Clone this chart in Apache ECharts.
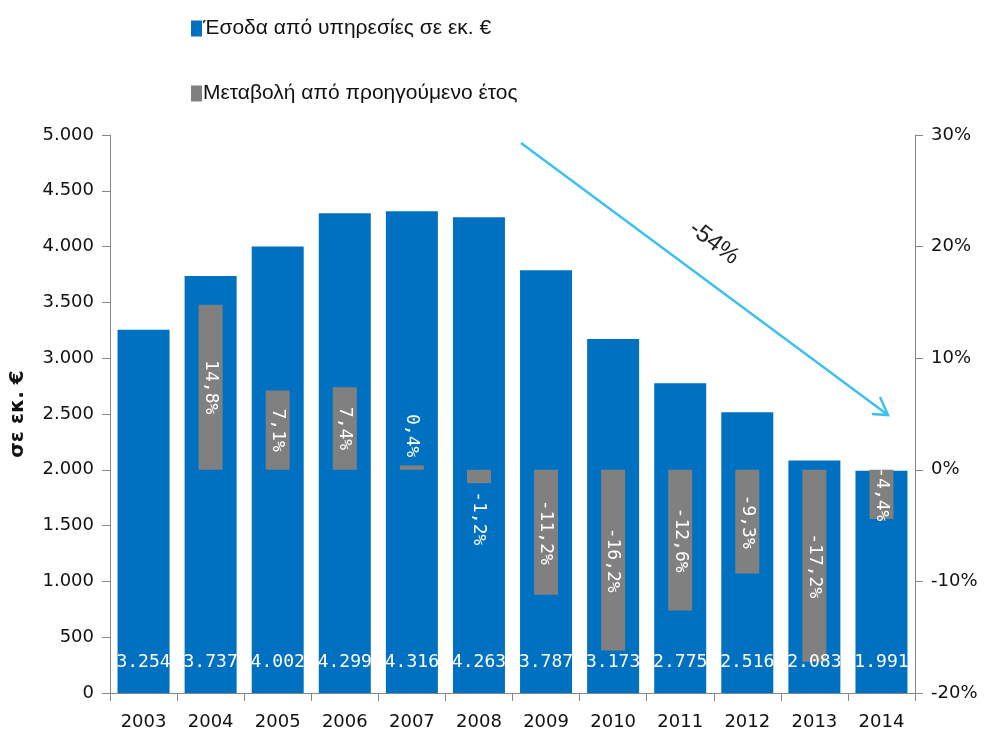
<!DOCTYPE html>
<html>
<head>
<meta charset="utf-8">
<script src="https://cdn.jsdelivr.net/npm/echarts@6/dist/echarts.min.js"></script>
<style>
  html, body { margin: 0; padding: 0; background: #fff; }
  #chart { width: 984px; height: 746px; }
</style>
</head>
<body>
<div id="chart"></div>
<script>
// έτη
var years = ['2003', '2004', '2005', '2006', '2007', '2008', '2009', '2010', '2011', '2012', '2013', '2014'];
// έσοδα σε εκ. €
var revenue = [3254, 3737, 4002, 4299, 4316, 4263, 3787, 3173, 2775, 2516, 2083, 1991];
// μεταβολή (%)
var change = [null, 14.8, 7.1, 7.4, 0.4, -1.2, -11.2, -16.2, -12.6, -9.3, -17.2, -4.4];

var FONT = 'DejaVu Sans';

var thousands = function (v) {
    return String(v).replace(/\B(?=(\d{3})+(?!\d))/g, '.');
};

// μικρές τιμές: η ετικέτα βγαίνει έξω από τη στήλη
var changeData = change.map(function (v) {
    if (v === null) return null;
    var item = { value: v };
    if (Math.abs(v) < 3) {
        item.label = v > 0
            ? { position: 'top', align: 'right', distance: 8 }
            : { position: 'bottom', align: 'left', distance: 8 };
    }
    return item;
});

var chart = echarts.init(document.getElementById('chart'));

var option = {
    animation: false,
    textStyle: { fontFamily: FONT },
    legend: {
        orient: 'vertical',
        left: 186,
        top: 13,
        itemGap: 44,
        itemWidth: 11,
        itemHeight: 16,
        icon: 'rect',
        textStyle: { fontSize: 21, color: '#111', fontFamily: 'Liberation Sans', padding: [0, 0, 0, -4] },
        data: ['Έσοδα από υπηρεσίες σε εκ. €', 'Μεταβολή από προηγούμενο έτος']
    },
    grid: { left: 110, right: 69, top: 135, bottom: 53, containLabel: false, outerBoundsMode: 'none' },
    xAxis: [
        {
            type: 'category',
            data: years,
            axisLine: { lineStyle: { color: '#868686' } },
            axisTick: { show: true, length: 8, lineStyle: { color: '#868686' } },
            axisLabel: { color: '#111', fontSize: 18, margin: 20 }
        },
        {
            type: 'category',
            data: years,
            show: false
        }
    ],
    yAxis: [
        {
            type: 'value',
            min: 0,
            max: 5000,
            interval: 500,
            name: 'σε εκ. €',
            nameLocation: 'middle',
            nameGap: 82,
            nameTextStyle: { fontSize: 20, fontWeight: 'bold', color: '#111' },
            axisLine: { show: true, lineStyle: { color: '#868686' } },
            axisTick: { show: true, length: 8, lineStyle: { color: '#868686' } },
            axisLabel: { color: '#111', fontSize: 18, margin: 16, formatter: thousands },
            splitLine: { show: false }
        },
        {
            type: 'value',
            min: -20,
            max: 30,
            interval: 10,
            position: 'right',
            axisLine: { show: true, lineStyle: { color: '#868686' } },
            axisTick: { show: true, length: 8, lineStyle: { color: '#868686' } },
            axisLabel: { color: '#111', fontSize: 18, margin: 16, formatter: '{value}%' },
            splitLine: { show: false }
        }
    ],
    series: [
        {
            name: 'Έσοδα από υπηρεσίες σε εκ. €',
            type: 'bar',
            xAxisIndex: 0,
            yAxisIndex: 0,
            data: revenue,
            barWidth: 52,
            itemStyle: { color: '#0070C0' },
            label: {
                show: true,
                position: 'insideBottom',
                distance: 22,
                color: '#fff',
                fontSize: 18,
                fontFamily: 'DejaVu Sans Mono',
                formatter: function (p) { return thousands(p.value); }
            }
        },
        {
            name: 'Μεταβολή από προηγούμενο έτος',
            type: 'bar',
            xAxisIndex: 1,
            yAxisIndex: 1,
            data: changeData,
            barWidth: 24,
            itemStyle: { color: '#808080' },
            label: {
                show: true,
                position: 'inside',
                rotate: -90,
                align: 'center',
                verticalAlign: 'middle',
                color: '#fff',
                fontSize: 18,
                fontFamily: 'DejaVu Sans Mono',
                formatter: function (p) { return p.value.toFixed(1).replace('.', ',') + '%'; }
            }
        }
    ],
    graphic: [
        {
            type: 'line',
            shape: { x1: 521, y1: 143, x2: 888, y2: 415 },
            style: { stroke: '#3CC0F0', lineWidth: 2.5 }
        },
        {
            type: 'polyline',
            shape: { points: [[872, 414], [888, 415], [880, 397]] },
            style: { stroke: '#3CC0F0', lineWidth: 2.5, fill: null }
        },
        {
            type: 'text',
            x: 714,
            y: 243,
            rotation: -37 * Math.PI / 180,
            style: {
                text: '-54%',
                fontSize: 24,
                fontFamily: 'Liberation Sans',
                fill: '#222',
                align: 'center',
                verticalAlign: 'middle'
            }
        }
    ]
};

chart.setOption(option);
</script>
</body>
</html>
